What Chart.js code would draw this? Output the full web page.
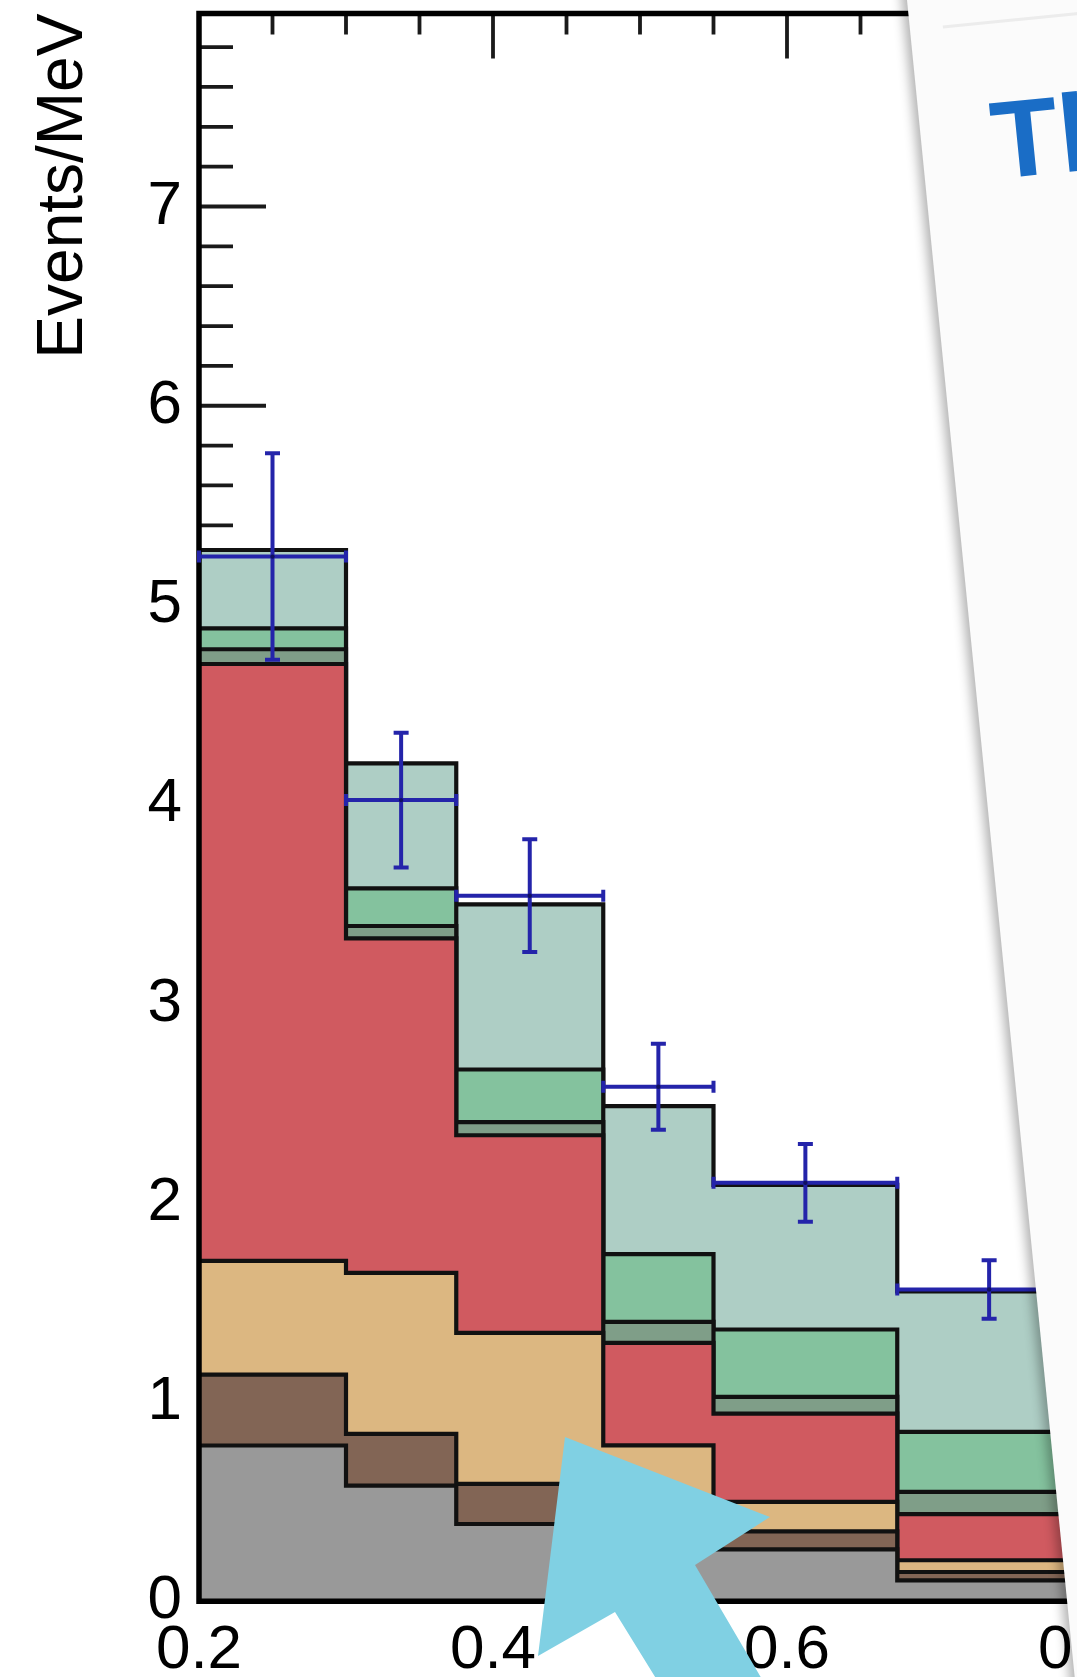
<!DOCTYPE html>
<html>
<head>
<meta charset="utf-8">
<script src="https://cdn.jsdelivr.net/npm/chart.js@4.4.1/dist/chart.umd.min.js"></script>
<style>
  html, body { margin: 0; padding: 0; background: #ffffff; }
  body { width: 1077px; height: 1677px; overflow: hidden; position: relative; }
  #wrap { position: absolute; left: 0; top: 0; width: 1250px; height: 1677px; }
  #panel {
    position: absolute; left: 907px; top: -300px; width: 900px; height: 2400px;
    transform-origin: 0 300px; transform: rotate(-5.71deg);
    background: #fbfbfb; box-shadow: -5px 0 11px rgba(0, 0, 0, 0.3);
  }
  #panel .rule { position: absolute; left: 33px; top: 329px; width: 800px; height: 3px; background: #ececec; }
  #panel .head {
    position: absolute; left: 70px; top: 394px; white-space: nowrap;
    font: bold 110px 'Liberation Sans', Arial, sans-serif; line-height: 1; color: #1a6dc6;
  }
  #arrow { position: absolute; left: 0; top: 0; }
</style>
</head>
<body>
<div id="wrap"><canvas id="hist" width="1250" height="1677"></canvas></div>
<div id="panel"><div class="rule"></div><div class="head">Th</div></div>
<svg id="arrow" width="1077" height="1677" viewBox="0 0 1077 1677">
  <polygon points="565,1437 770,1517 695,1565 790,1727 686,1727 615,1612 538,1656" fill="#80d0e3"/>
</svg>
<script>
// Bin edges (GeV) of the variable-width histogram
const binEdges = [0.2, 0.3, 0.375, 0.475, 0.55, 0.675, 0.8];

// Per-component contributions in Events/MeV, bottom to top of the stack
const greyComp  = [0.782, 0.581, 0.388, 0.270, 0.261, 0.105];
const brownComp = [0.356, 0.259, 0.201, 0.110, 0.090, 0.042];
const tanComp   = [0.570, 0.808, 0.758, 0.403, 0.148, 0.059];
const redComp   = [2.996, 1.679, 0.992, 0.514, 0.443, 0.231];
const sageComp  = [0.074, 0.062, 0.066, 0.105, 0.084, 0.112];
const greenComp = [0.105, 0.189, 0.264, 0.340, 0.338, 0.301];
const tealComp  = [0.393, 0.627, 0.829, 0.743, 0.726, 0.705];

// Measured data points and their errors
const dataValues = [5.243, 4.021, 3.541, 2.582, 2.100, 1.565];
const dataErrors = [0.518, 0.338, 0.283, 0.216, 0.195, 0.147];

// Axis tick labels
const xTickValues = [0.2, 0.4, 0.6, 0.8];
const yTickValues = [0, 1, 2, 3, 4, 5, 6, 7];

const FONT = "'Liberation Sans', Arial, Helvetica, sans-serif";

// Step outline for one component: a point at every left edge plus the closing right edge
function stepPoints(vals) {
  return binEdges.map((x, i) => ({ x: x, y: vals[Math.min(i, vals.length - 1)] }));
}
const binCenters = binEdges.slice(0, -1).map((lo, i) => (lo + binEdges[i + 1]) / 2);

const layers = [
  { label: 'grey',  vals: greyComp,  color: '#999999' },
  { label: 'brown', vals: brownComp, color: '#826555' },
  { label: 'tan',   vals: tanComp,   color: '#dcb781' },
  { label: 'red',   vals: redComp,   color: '#d05a60' },
  { label: 'sage',  vals: sageComp,  color: '#7f9e88' },
  { label: 'green', vals: greenComp, color: '#84c29e' },
  { label: 'teal',  vals: tealComp,  color: '#aecec5' }
];

const histDatasets = layers.map((l, i) => ({
  type: 'line',
  label: l.label,
  data: stepPoints(l.vals),
  stepped: true,
  fill: i === 0 ? 'origin' : '-1',
  backgroundColor: l.color,
  borderColor: '#111111',
  borderWidth: 4.2,
  pointRadius: 0,
  stack: 'mc'
}));

const dataIndex = histDatasets.length;
const dataDataset = {
  type: 'scatter',
  label: 'data',
  data: binCenters.map((x, i) => ({ x: x, y: dataValues[i] })),
  showLine: false,
  pointRadius: 0,
  stack: 'data'
};

// ROOT-style inward tick marks, drawn underneath the histograms
const innerTicks = {
  id: 'innerTicks',
  beforeDatasetsDraw(chart) {
    const { ctx, chartArea: a, scales: { x, y } } = chart;
    ctx.save();
    ctx.strokeStyle = '#1a1a1a';
    ctx.lineWidth = 3.8;
    ctx.beginPath();
    for (let k = 1; k * 0.2 < y.max; k++) {
      const v = k * 0.2;
      const py = y.getPixelForValue(v);
      const major = k % 5 === 0;
      ctx.moveTo(a.left, py);
      ctx.lineTo(a.left + (major ? 67 : 34), py);
    }
    for (let k = 5; k * 0.05 <= x.max + 1e-9; k++) {
      const v = k * 0.05;
      if (v <= x.min + 1e-9) continue;
      const px = x.getPixelForValue(v);
      const major = k % 4 === 0;
      ctx.moveTo(px, a.top);
      ctx.lineTo(px, a.top + (major ? 45 : 21));
    }
    ctx.stroke();
    ctx.restore();
  }
};

// Frame lines on the left, top and bottom of the plot area
const frame = {
  id: 'frame',
  afterDatasetsDraw(chart) {
    const { ctx, chartArea: a } = chart;
    ctx.save();
    ctx.strokeStyle = '#000000';
    ctx.lineWidth = 5.5;
    ctx.lineCap = 'square';
    ctx.beginPath();
    ctx.moveTo(a.right, a.top);
    ctx.lineTo(a.left, a.top);
    ctx.lineTo(a.left, a.bottom);
    ctx.lineTo(a.right, a.bottom);
    ctx.stroke();
    ctx.restore();
  }
};

// Data points: horizontal bin-width bar plus vertical error bar with caps
const errorBars = {
  id: 'errorBars',
  afterDatasetsDraw(chart) {
    const { ctx, scales: { x, y } } = chart;
    const pts = chart.data.datasets[dataIndex].data;
    ctx.save();
    ctx.strokeStyle = '#2424aa';
    ctx.fillStyle = '#101060';
    ctx.lineWidth = 4;
    pts.forEach((p, i) => {
      const xl = x.getPixelForValue(binEdges[i]);
      const xr = x.getPixelForValue(binEdges[i + 1]);
      const xc = x.getPixelForValue(p.x);
      const yv = y.getPixelForValue(p.y);
      const yt = y.getPixelForValue(p.y + dataErrors[i]);
      const yb = y.getPixelForValue(p.y - dataErrors[i]);
      ctx.beginPath();
      ctx.moveTo(xl, yv); ctx.lineTo(xr, yv);
      ctx.moveTo(xl, yv - 6); ctx.lineTo(xl, yv + 6);
      ctx.moveTo(xr, yv - 6); ctx.lineTo(xr, yv + 6);
      ctx.moveTo(xc, yt); ctx.lineTo(xc, yb);
      ctx.moveTo(xc - 7.5, yt); ctx.lineTo(xc + 7.5, yt);
      ctx.moveTo(xc - 7.5, yb); ctx.lineTo(xc + 7.5, yb);
      ctx.stroke();
      ctx.beginPath();
      ctx.arc(xc, yv, 2.2, 0, Math.PI * 2);
      ctx.fill();
    });
    ctx.restore();
  }
};

new Chart(document.getElementById('hist'), {
  type: 'line',
  data: { datasets: [...histDatasets, dataDataset] },
  options: {
    responsive: false,
    animation: false,
    layout: { padding: { top: 13.6, right: 22, bottom: 0, left: 0 } },
    plugins: { legend: { display: false }, tooltip: { enabled: false } },
    scales: {
      x: {
        type: 'linear',
        min: 0.2,
        max: 0.9,
        grid: { display: false },
        border: { display: false },
        afterBuildTicks(scale) { scale.ticks = xTickValues.map(v => ({ value: v })); },
        afterFit(scale) { scale.height = 75.7; scale.paddingLeft = 0; scale.paddingRight = 0; },
        ticks: {
          autoSkip: false, maxRotation: 0, padding: 4, color: '#000000',
          font: { family: FONT, size: 62 },
          callback: v => Number(v).toFixed(1)
        }
      },
      y: {
        type: 'linear',
        stacked: true,
        min: 0,
        max: 7.968,
        grid: { display: false, drawTicks: false },
        border: { display: false },
        afterBuildTicks(scale) { scale.ticks = yTickValues.map(v => ({ value: v })); },
        afterFit(scale) { scale.width = 199; scale.paddingTop = 0; scale.paddingBottom = 0; },
        ticks: {
          padding: 17, color: '#000000',
          font: { family: FONT, size: 62 },
          callback: v => String(v)
        },
        title: {
          display: true, text: 'Events/MeV', align: 'end', color: '#000000',
          font: { family: FONT, size: 64 }, padding: { top: 26.4, bottom: 0 }
        }
      }
    }
  },
  plugins: [innerTicks, frame, errorBars]
});
</script>
</body>
</html>
